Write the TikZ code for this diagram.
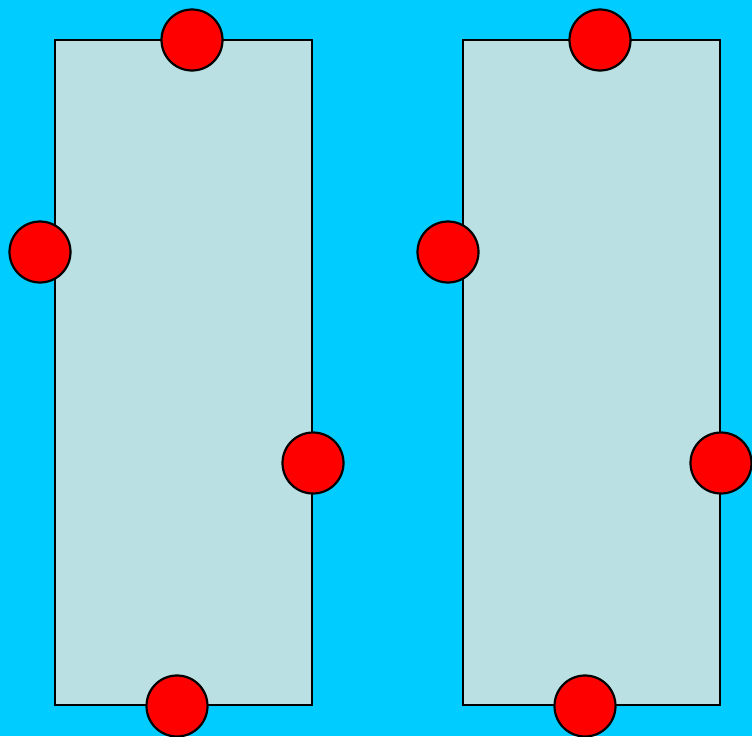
\documentclass[tikz,border=0pt]{standalone}
\definecolor{bgcyan}{RGB}{0,204,255}
\definecolor{panelfill}{RGB}{187,224,227}
\begin{document}
\begin{tikzpicture}[x=1pt,y=-1pt,
  panel/.style={draw=black,fill=panelfill,line width=2.2pt},
  dot/.style={circle,draw=black,fill=red,line width=2.2pt,minimum size=61pt,inner sep=0pt}]
\fill[bgcyan] (0,0) rectangle (752,736);
\useasboundingbox (0,0) rectangle (752,736);
\node[panel,minimum width=257pt,minimum height=665pt,inner sep=0pt] (L) at (183.5,372.5) {};
\node[panel,minimum width=257pt,minimum height=665pt,inner sep=0pt] (R) at (591.5,372.5) {};
\node[dot] (l1) at (192,40) {};
\node[dot] (l2) at (40,252) {};
\node[dot] (l3) at (313,463) {};
\node[dot] (l4) at (177,706) {};
\node[dot] (r1) at (600,40) {};
\node[dot] (r2) at (448,252) {};
\node[dot] (r3) at (721,463) {};
\node[dot] (r4) at (585,706) {};
\end{tikzpicture}
\end{document}
